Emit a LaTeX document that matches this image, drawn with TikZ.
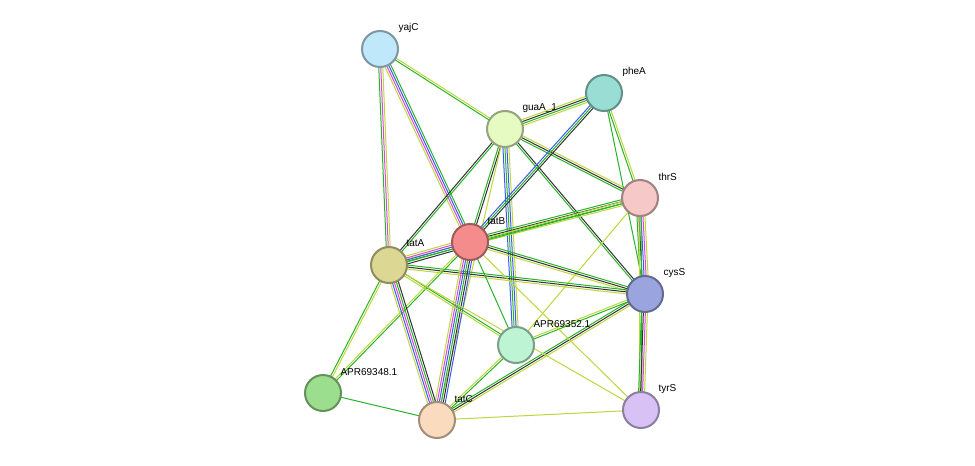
\documentclass[tikz,border=0pt]{standalone}
\usepackage{fontspec}
\setmainfont{Liberation Sans}
\usetikzlibrary{calc}
\definecolor{tm}{RGB}{190,215,60}
\definecolor{gr}{RGB}{40,180,40}
\definecolor{bk}{RGB}{50,50,50}
\definecolor{bl}{RGB}{60,90,240}
\definecolor{mg}{RGB}{220,70,220}
\definecolor{cyajC}{RGB}{192,232,251}
\definecolor{cguaA}{RGB}{229,251,194}
\definecolor{cpheA}{RGB}{153,221,212}
\definecolor{cthrS}{RGB}{247,200,200}
\definecolor{ctatB}{RGB}{244,140,140}
\definecolor{ctatA}{RGB}{220,216,148}
\definecolor{ccysS}{RGB}{154,164,222}
\definecolor{cA52}{RGB}{189,245,212}
\definecolor{cA48}{RGB}{155,223,142}
\definecolor{ctatC}{RGB}{251,219,189}
\definecolor{ctyrS}{RGB}{216,194,245}
\newcommand\sedge[4]{%
  \foreach \c [count=\i] in {#4}{%
    \pgfmathsetmacro\k{(\i-1-(#3-1)/2)*2.0}%
    \draw[\c, line width=1pt] ($(#1)!\k pt!90:(#2)$) -- ($(#2)!\k pt!-90:(#1)$);
  }}
\begin{document}
\begin{tikzpicture}[x=1pt,y=-1pt,
  prot/.style={circle,minimum size=36pt,inner sep=0pt,line width=2pt,fill=#1,draw=#1!65!black},
  lab/.style={anchor=west,font=\fontsize{10}{11}\selectfont}]
\useasboundingbox[fill=white] (0,0) rectangle (975,466);
\coordinate (yajC) at (380,49);
\coordinate (guaA) at (505,129);
\coordinate (pheA) at (604,93);
\coordinate (thrS) at (640,198);
\coordinate (tatB) at (470,242);
\coordinate (tatA) at (389,265);
\coordinate (cysS) at (645,294);
\coordinate (A52) at (516,345);
\coordinate (A48) at (323,393);
\coordinate (tatC) at (437,420);
\coordinate (tyrS) at (641,410);
\sedge{yajC}{guaA}{2}{gr,tm}
\sedge{yajC}{tatB}{4}{tm,mg,bl,gr}
\sedge{yajC}{tatA}{3}{gr,mg,tm}
\sedge{guaA}{pheA}{4}{tm,gr,bk,tm}
\sedge{guaA}{thrS}{3}{gr,bk,tm}
\sedge{guaA}{cysS}{2}{gr,bk}
\sedge{guaA}{tatB}{2}{gr,bk}
\sedge{guaA}{tatA}{2}{bk,gr}
\sedge{guaA}{A52}{4}{bl,gr,bl,tm}
\sedge{guaA}{tatC}{1}{tm}
\sedge{pheA}{thrS}{2}{gr,tm}
\sedge{pheA}{tatB}{3}{bl,gr,bk}
\sedge{pheA}{cysS}{1}{gr}
\sedge{thrS}{tatB}{4}{gr,bk,gr,tm}
\sedge{thrS}{cysS}{5}{gr,bk,bl,mg,tm}
\sedge{thrS}{tatA}{2}{tm,gr}
\sedge{thrS}{A52}{1}{tm}
\sedge{thrS}{tyrS}{2}{tm,gr}
\sedge{cysS}{tatB}{3}{gr,bk,tm}
\sedge{cysS}{tatA}{3}{gr,bk,tm}
\sedge{cysS}{tyrS}{4}{gr,bk,mg,tm}
\sedge{cysS}{tatC}{3}{gr,bk,tm}
\sedge{cysS}{A52}{2}{tm,gr}
\sedge{tatB}{tatA}{5}{tm,mg,bl,gr,bk}
\sedge{tatB}{tatC}{6}{tm,mg,bl,gr,bk,bl}
\sedge{tatB}{A52}{1}{gr}
\sedge{tatB}{tyrS}{1}{tm}
\sedge{tatB}{A48}{2}{tm,gr}
\sedge{tatA}{tatC}{5}{tm,bl,mg,gr,bk}
\sedge{tatA}{A48}{2}{gr,tm}
\sedge{tatA}{A52}{2}{tm,gr}
\sedge{tatA}{tyrS}{1}{tm}
\sedge{A48}{tatC}{1}{gr}
\sedge{tatC}{A52}{2}{gr,tm}
\sedge{tatC}{tyrS}{1}{tm}
\node[prot=cyajC] (nyajC) at (yajC) {};
\node[prot=cguaA] (nguaA) at (guaA) {};
\node[prot=cpheA] (npheA) at (pheA) {};
\node[prot=cthrS] (nthrS) at (thrS) {};
\node[prot=ctatB] (ntatB) at (tatB) {};
\node[prot=ctatA] (ntatA) at (tatA) {};
\node[prot=ccysS] (ncysS) at (cysS) {};
\node[prot=cA52] (nA52) at (A52) {};
\node[prot=cA48] (nA48) at (A48) {};
\node[prot=ctatC] (ntatC) at (tatC) {};
\node[prot=ctyrS] (ntyrS) at (tyrS) {};
\node[lab] (l1) at (395,28) {yajC};
\node[lab] (l2) at (519,108) {guaA\_1};
\node[lab] (l3) at (619,72) {pheA};
\node[lab] (l4) at (655,177) {thrS};
\node[lab] (l5) at (484,221) {tatB};
\node[lab] (l6) at (403,243) {tatA};
\node[lab] (l7) at (660,273) {cysS};
\node[lab] (l8) at (530,324) {APR69352.1};
\node[lab] (l9) at (337,372) {APR69348.1};
\node[lab] (l10) at (451,399) {tatC};
\node[lab] (l11) at (655,389) {tyrS};
\end{tikzpicture}
\end{document}
